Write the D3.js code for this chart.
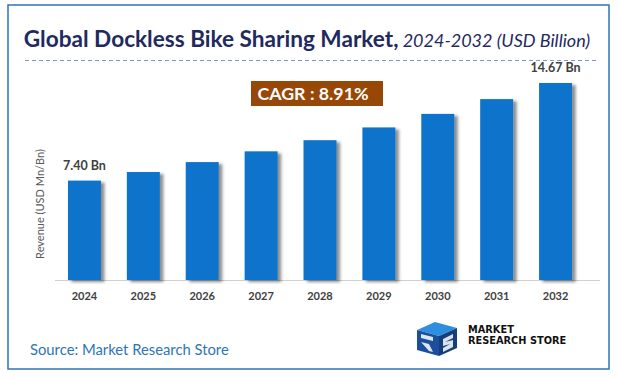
<!DOCTYPE html>
<html><head><meta charset="utf-8">
<script src="https://cdn.jsdelivr.net/npm/d3@7/dist/d3.min.js"></script>
<style>body{margin:0;background:#fff}svg{display:block}</style>
</head><body><svg id="c" width="618" height="378"></svg>
<script>
const years = ["2024","2025","2026","2027","2028","2029","2030","2031","2032"];
const revenue = [7.40, 8.04, 8.78, 9.58, 10.41, 11.36, 12.37, 13.47, 14.67];
const valueLabels = ["7.40 Bn", null, null, null, null, null, null, null, "14.67 Bn"];
const cagrText = "CAGR : 8.91%";
const titleMain = "Global Dockless Bike Sharing Market,";
const titleSub = " 2024-2032 (USD Billion)";
const yAxisTitle = "Revenue (USD Mn/Bn)";
const sourceText = "Source: Market Research Store";

const svg = d3.select("#c");
const font = "Lato, 'Open Sans', sans-serif";

const defs = svg.append("defs");
const f = defs.append("filter").attr("id","sh").attr("x","-20%").attr("y","-20%").attr("width","160%").attr("height","140%");
f.append("feDropShadow").attr("dx",3.5).attr("dy",2).attr("stdDeviation",1.6).attr("flood-color","#000").attr("flood-opacity",0.45);

// frame
svg.append("rect").attr("x",8).attr("y",5).attr("width",601).attr("height",364)
  .attr("fill","#fff").attr("stroke","#2E75B6").attr("stroke-width",1.5);

// title
const t = svg.append("text").attr("x",307).attr("y",47).attr("text-anchor","middle")
  .attr("font-family",font).attr("font-size",22.6);
t.append("tspan").text(titleMain).attr("font-weight","bold").attr("fill","#1F2A5E");
t.append("tspan").text(titleSub).attr("font-style","italic").attr("fill","#1F2A5E").attr("font-size",18);

svg.append("line").attr("x1",25).attr("x2",597).attr("y1",60.5).attr("y2",60.5)
  .attr("stroke","#7F96C8").attr("stroke-width",1.2).attr("stroke-dasharray","4,3");

// scales
const x = d3.scaleBand().domain(years).range([55,585]).paddingInner(0.44).paddingOuter(0.22);
const y = d3.scaleLinear().domain([0,14.67]).range([280,83]);

// axis line
svg.append("line").attr("x1",55).attr("x2",600).attr("y1",280.5).attr("y2",280.5)
  .attr("stroke","#D0D0D0").attr("stroke-width",1);

svg.append("g").selectAll("rect").data(revenue).join("rect")
  .attr("x",(d,i)=>x(years[i])).attr("width",x.bandwidth())
  .attr("y",d=>y(d)).attr("height",d=>y(0)-y(d))
  .attr("fill","#0A73CB").attr("filter","url(#sh)");

// x labels
svg.append("g").selectAll("text").data(years).join("text")
  .attr("x",d=>x(d)+x.bandwidth()/2).attr("y",300).attr("text-anchor","middle")
  .attr("font-family",font).attr("font-weight","bold").attr("font-size",11).attr("fill","#404040")
  .text(d=>d);

// value labels
svg.append("g").selectAll("text").data(revenue).join("text")
  .attr("x",(d,i)=>x(years[i])+x.bandwidth()/2).attr("y",d=>y(d)-11).attr("text-anchor","middle")
  .attr("font-family",font).attr("font-weight","bold").attr("font-size",12.5).attr("fill","#404040")
  .text((d,i)=>valueLabels[i]||"");

// y title
svg.append("text").attr("transform","translate(44,204) rotate(-90)").attr("text-anchor","middle")
  .attr("font-family",font).attr("font-size",11).attr("fill","#595959").text(yAxisTitle);

// CAGR box
svg.append("rect").attr("x",251).attr("y",81).attr("width",132).attr("height",25).attr("fill","#974706");
svg.append("text").attr("x",313).attr("y",100).attr("text-anchor","middle")
  .attr("font-family",font).attr("font-weight","bold").attr("font-size",17.8).attr("fill","#fff").text(cagrText);

// source
svg.append("text").attr("x",30).attr("y",355).attr("font-family",font).attr("font-size",14.8)
  .attr("fill","#2E75B6").text(sourceText);

// logo
const lg = svg.append("g").attr("transform","translate(415,320)");
lg.append("path").attr("d","M2,10 L20,2 L42,8 L24,16 Z").attr("fill","#2E8FE0");
lg.append("path").attr("d","M2,10 L24,16 L24,36 L2,30 Z").attr("fill","#1B4F9C");
lg.append("path").attr("d","M24,16 L42,8 L42,28 L24,36 Z").attr("fill","#163E7A");
lg.append("path").attr("d","M6,14 L18,17 L18,21 L6,18 Z M6,22 L14,24 L18,32 L14,31 Z").attr("fill","#fff").attr("opacity",0.85);
lg.append("path").attr("d","M28,19 L38,14 L38,18 L30,22 L38,20 L38,27 L28,32 L28,28 L35,24 L28,26 Z").attr("fill","#fff").attr("opacity",0.85);
svg.append("text").attr("x",468).attr("y",333).attr("font-family","'DejaVu Sans', sans-serif").attr("font-weight","bold")
  .attr("font-size",9.8).attr("fill","#111").text("MARKET");
svg.append("text").attr("x",468).attr("y",344).attr("font-family","'DejaVu Sans', sans-serif").attr("font-weight","bold")
  .attr("font-size",9.8).attr("fill","#111").text("RESEARCH STORE");
</script></body></html>
